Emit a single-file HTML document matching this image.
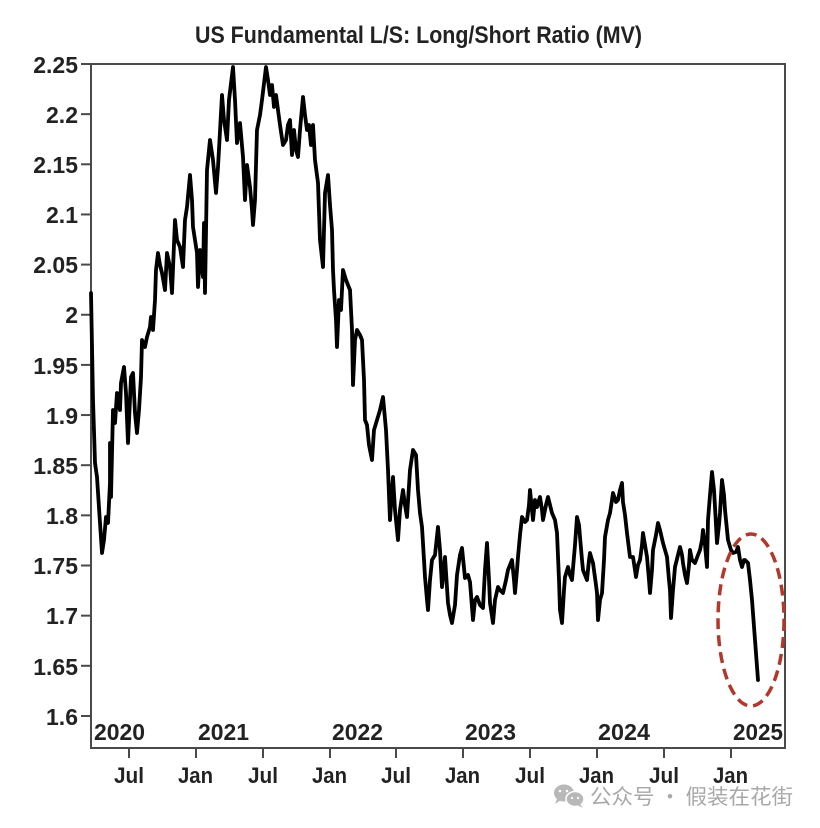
<!DOCTYPE html>
<html>
<head>
<meta charset="utf-8">
<style>
  html,body{margin:0;padding:0;background:#fff;}
  svg{display:block;}
  text{font-family:"Liberation Sans","Noto Sans CJK SC",sans-serif;}
</style>
</head>
<body>
<svg width="820" height="828" viewBox="0 0 820 828" xmlns="http://www.w3.org/2000/svg">
  <rect x="0" y="0" width="820" height="828" fill="#fff"/>

  <!-- Title -->
  <text x="195" y="43" font-size="24" font-weight="bold" fill="#222" textLength="447" lengthAdjust="spacingAndGlyphs">US Fundamental L/S: Long/Short Ratio (MV)</text>

  <!-- Frame -->
  <rect x="91" y="64" width="694" height="684" fill="none" stroke="#4a4a4a" stroke-width="2"/>

  <!-- Y ticks -->
  <g stroke="#4a4a4a" stroke-width="2">
    <line x1="81" y1="64" x2="91" y2="64"/>
    <line x1="81" y1="114.15" x2="91" y2="114.15"/>
    <line x1="81" y1="164.3" x2="91" y2="164.3"/>
    <line x1="81" y1="214.45" x2="91" y2="214.45"/>
    <line x1="81" y1="264.6" x2="91" y2="264.6"/>
    <line x1="81" y1="314.75" x2="91" y2="314.75"/>
    <line x1="81" y1="364.9" x2="91" y2="364.9"/>
    <line x1="81" y1="415.05" x2="91" y2="415.05"/>
    <line x1="81" y1="465.2" x2="91" y2="465.2"/>
    <line x1="81" y1="515.35" x2="91" y2="515.35"/>
    <line x1="81" y1="565.5" x2="91" y2="565.5"/>
    <line x1="81" y1="615.65" x2="91" y2="615.65"/>
    <line x1="81" y1="665.8" x2="91" y2="665.8"/>
    <line x1="81" y1="716" x2="91" y2="716"/>
  </g>
  <g font-size="23" font-weight="bold" fill="#222" text-anchor="end">
    <text x="78" y="73">2.25</text>
    <text x="78" y="123">2.2</text>
    <text x="78" y="173">2.15</text>
    <text x="78" y="223">2.1</text>
    <text x="78" y="273">2.05</text>
    <text x="78" y="323">2</text>
    <text x="78" y="374">1.95</text>
    <text x="78" y="424">1.9</text>
    <text x="78" y="474">1.85</text>
    <text x="78" y="524">1.8</text>
    <text x="78" y="574">1.75</text>
    <text x="78" y="624">1.7</text>
    <text x="78" y="675">1.65</text>
    <text x="78" y="725">1.6</text>
  </g>

  <!-- X ticks -->
  <g stroke="#4a4a4a" stroke-width="2">
    <line x1="129" y1="748" x2="129" y2="758"/>
    <line x1="196" y1="748" x2="196" y2="758"/>
    <line x1="263" y1="748" x2="263" y2="758"/>
    <line x1="330" y1="748" x2="330" y2="758"/>
    <line x1="396" y1="748" x2="396" y2="758"/>
    <line x1="463" y1="748" x2="463" y2="758"/>
    <line x1="530" y1="748" x2="530" y2="758"/>
    <line x1="597" y1="748" x2="597" y2="758"/>
    <line x1="664" y1="748" x2="664" y2="758"/>
    <line x1="731" y1="748" x2="731" y2="758"/>
  </g>
  <g font-size="22" font-weight="bold" fill="#222">
    <text x="114" y="783" textLength="30" lengthAdjust="spacingAndGlyphs">Jul</text>
    <text x="178" y="783" textLength="35" lengthAdjust="spacingAndGlyphs">Jan</text>
    <text x="248" y="783" textLength="30" lengthAdjust="spacingAndGlyphs">Jul</text>
    <text x="312" y="783" textLength="35" lengthAdjust="spacingAndGlyphs">Jan</text>
    <text x="381" y="783" textLength="30" lengthAdjust="spacingAndGlyphs">Jul</text>
    <text x="445" y="783" textLength="35" lengthAdjust="spacingAndGlyphs">Jan</text>
    <text x="515" y="783" textLength="30" lengthAdjust="spacingAndGlyphs">Jul</text>
    <text x="579" y="783" textLength="35" lengthAdjust="spacingAndGlyphs">Jan</text>
    <text x="649" y="783" textLength="30" lengthAdjust="spacingAndGlyphs">Jul</text>
    <text x="713" y="783" textLength="35" lengthAdjust="spacingAndGlyphs">Jan</text>
  </g>

  <!-- Year labels inside plot -->
  <g font-size="23" font-weight="bold" fill="#222">
    <text x="94" y="740" textLength="51" lengthAdjust="spacingAndGlyphs">2020</text>
    <text x="198" y="740" textLength="51" lengthAdjust="spacingAndGlyphs">2021</text>
    <text x="332" y="740" textLength="51" lengthAdjust="spacingAndGlyphs">2022</text>
    <text x="465" y="740" textLength="51" lengthAdjust="spacingAndGlyphs">2023</text>
    <text x="598" y="740" textLength="52" lengthAdjust="spacingAndGlyphs">2024</text>
    <text x="733" y="740" textLength="50" lengthAdjust="spacingAndGlyphs">2025</text>
  </g>

  <!-- Data series -->
  <polyline fill="none" stroke="#000" stroke-width="3.8" stroke-linejoin="round" stroke-linecap="round" points="
91,293 93,400 95,463 97,477 100,523 102,553 104,540 106,517 108,523 110,483 110,443 111,497 113,410 115,423 117,393 120,410 121,383 124,367 126,393 128,443 131,377 133,373 135,413 137,433 139,410 141,377 142,340 145,347 147,337 150,327 151,317 153,330 155,300 156,270 158,253 160,265 162,273 165,290 167,253 170,267 172,293 175,220 177,240 180,247 183,267 185,220 187,207 190,175 192,200 193,227 197,253 198,287 200,250 203,277 204,223 205,293 207,170 210,140 213,160 216,193 218,167 222,95 224,120 227,140 229,100 233,67 235,100 237,143 240,123 243,157 245,200 247,165 250,187 252,210 253,225 255,200 257,130 260,115 262,100 266,67 268,80 270,95 272,85 274,107 276,95 278,110 280,125 283,145 286,140 288,125 290,120 292,155 294,130 296,150 298,157 300,130 303,97 305,115 307,130 309,125 311,145 313,125 315,160 318,183 320,240 323,267 325,193 328,175 330,205 332,230 333,270 334,290 336,320 337,347 339,300 341,310 343,270 346,280 350,290 352,330 353,385 355,340 357,330 360,335 362,340 364,380 365,420 367,425 369,445 372,460 374,430 377,420 380,410 383,397 386,430 388,470 390,520 392,490 393,477 395,510 398,540 400,510 403,490 405,505 407,517 410,470 413,450 416,455 418,490 420,513 422,527 424,560 425,577 427,600 428,610 430,580 432,560 435,555 438,527 440,550 442,587 445,557 448,603 450,615 452,623 455,605 457,575 460,555 462,548 465,578 468,575 470,582 473,620 475,600 477,597 480,605 483,608 485,570 487,543 489,580 490,603 493,623 495,600 498,587 500,590 503,593 506,580 508,570 510,565 512,560 514,580 515,593 517,570 518,557 520,535 522,517 525,522 527,520 529,505 530,490 532,510 533,520 535,500 537,507 539,500 540,497 542,510 543,520 546,505 548,497 550,505 552,513 555,520 557,533 559,580 560,610 562,623 564,590 565,577 568,567 570,575 572,580 575,545 577,517 579,525 580,537 582,560 583,570 585,575 587,580 589,560 590,553 592,560 593,563 596,585 597,593 598,620 600,600 602,593 604,560 605,537 608,520 610,513 612,500 613,493 616,502 618,500 620,490 622,483 623,502 625,515 627,533 630,557 633,557 635,570 636,577 638,565 640,560 642,545 643,533 645,545 647,557 649,580 650,593 652,570 653,550 656,535 658,523 660,530 663,543 665,550 667,557 669,580 670,590 671,618 673,590 675,567 678,555 680,547 682,555 683,563 685,575 687,583 689,565 690,550 692,560 695,563 698,555 700,550 702,540 703,530 705,545 707,567 708,520 710,495 712,472 714,490 715,507 717,543 719,525 720,513 722,480 724,495 725,510 727,530 728,540 731,550 733,553 736,552 738,547 740,560 742,567 744,560 745,560 748,563 750,580 752,600 755,640 758,680"/>

  <!-- Red dashed ellipse -->
  <ellipse cx="751" cy="620" rx="33" ry="86" fill="none" stroke="#b0392c" stroke-width="3.5" stroke-dasharray="11 6"/>

  <!-- Watermark -->
  <g fill="#b8b8b8">
    <ellipse cx="564" cy="793" rx="10" ry="8.5"/>
    <path d="M557,799 L555,804 L561,800 Z"/>
    <ellipse cx="575" cy="799" rx="9" ry="7.5" fill="#b8b8b8" stroke="#fff" stroke-width="1.5"/>
    <path d="M580,804 L583,808 L577,805 Z"/>
    <circle cx="560" cy="791" r="1.3" fill="#fff"/>
    <circle cx="567" cy="791" r="1.3" fill="#fff"/>
    <circle cx="572" cy="798" r="1.1" fill="#fff"/>
    <circle cx="578" cy="798" r="1.1" fill="#fff"/>
  </g>
  <text x="590" y="804" font-size="21" fill="#a8a8a8" textLength="203" lengthAdjust="spacingAndGlyphs" style="font-family:'Noto Sans CJK SC','WenQuanYi Zen Hei',sans-serif;">公众号 · 假装在花街</text>
</svg>
</body>
</html>
